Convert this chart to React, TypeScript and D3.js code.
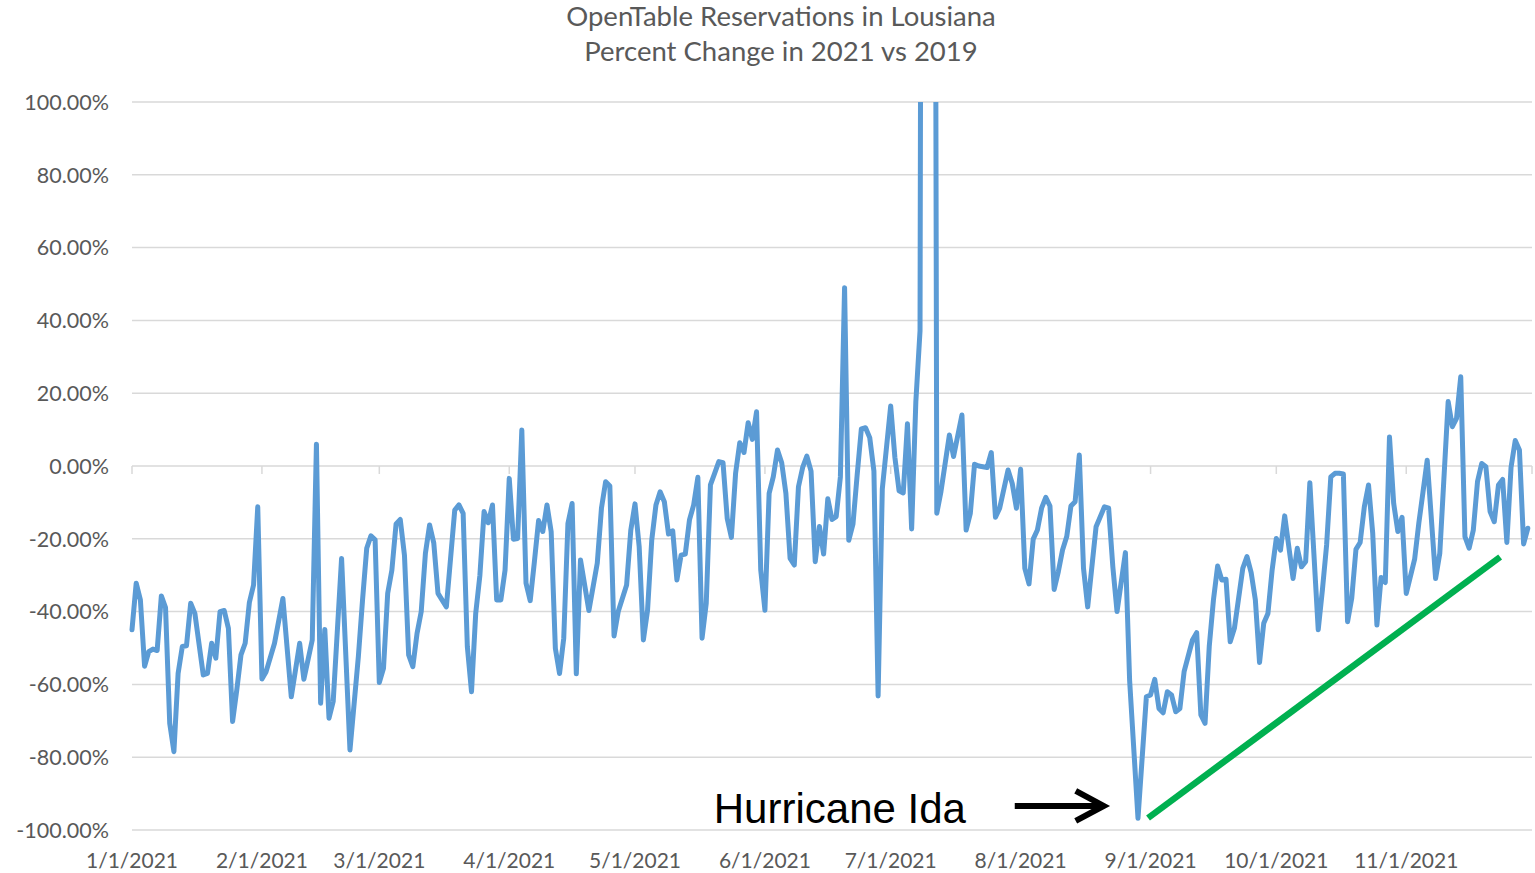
import React from "react";
import * as d3 from "d3";

// ---------- data ----------
const TITLE_LINES = ["OpenTable Reservations in Lousiana", "Percent Change in 2021 vs 2019"];

// days since 1/1/2021 of each plotted observation
const DAY_OFFSETS = [
  0, 1, 2, 3, 4, 5, 6, 7, 8, 9, 10, 11, 12, 13, 14, 15, 17, 18, 19, 20, 21, 22, 23, 24, 25, 26, 27, 28, 29, 30,
  31, 32, 34, 36, 38, 40, 41, 43, 44, 45, 46, 47, 48, 50, 52, 54, 55, 56, 57, 58, 59, 60, 61, 62, 63, 64, 65,
  66, 67, 68, 69, 70, 71, 72, 73, 75, 77, 78, 79, 80, 81, 82, 83, 84, 85, 86, 87, 88, 89, 90, 91, 92, 93, 94,
  95, 96, 97, 98, 99, 100, 101, 102, 103, 104, 105, 106, 107, 109, 111, 112, 113, 114, 115, 116, 118, 119, 120,
  121, 122, 123, 124, 125, 126, 127, 128, 129, 130, 131, 132, 133, 134, 135, 136, 137, 138, 139, 140, 141, 142,
  143, 144, 145, 146, 147, 148, 149, 150, 151, 152, 153, 154, 155, 156, 157, 158, 159, 160, 161, 162, 163, 164,
  165, 166, 167, 168, 169, 170, 171, 172, 173, 174, 175, 176, 177, 178, 179, 181, 182, 183, 184, 185, 186, 187,
  188, 189, 190, 191, 192, 193, 195, 196, 198, 199, 200, 201, 202, 204, 205, 206, 207, 209, 210, 211, 212, 213,
  214, 215, 216, 217, 218, 219, 220, 221, 222, 223, 224, 225, 226, 227, 228, 230, 232, 233, 234, 235, 237, 238,
  240, 242, 243, 244, 245, 246, 247, 248, 249, 250, 251, 253, 254, 255, 256, 257, 258, 259, 260, 261, 262, 263,
  265, 266, 267, 268, 269, 270, 271, 272, 273, 274, 275, 277, 278, 279, 280, 281, 283, 284, 285, 286, 287, 288,
  289, 290, 291, 292, 293, 294, 295, 296, 297, 298, 299, 300, 301, 302, 303, 304, 306, 307, 308, 309, 311, 312,
  314, 315, 316, 317, 318, 319, 320, 321, 322, 323, 324, 325, 326, 327, 328, 329, 330, 331, 332, 333,
];

// percent change vs 2019
const PCT_CHANGE = [
  -45, -32.2, -36.8, -55, -51, -50.3, -50.7, -35.7, -38.9, -70.7, -78.5, -57, -49.6, -49.4, -37.7, -40.5, -57.4, -57,
  -48.7, -52.8, -40, -39.7, -44.6, -70.2, -61.5, -51.9, -48.7, -37.5, -32.7, -11.2,
  -58.5, -56.5, -48.7, -36.4, -63.4, -48.7, -58.6, -47.8, 6, -65.2, -44.9, -69.3, -64.7, -25.4, -78, -52.4, -36.8,
  -22.6, -19.2, -20.3, -59.5, -55.6, -35, -28.6, -15.9, -14.7, -24.5,
  -51.9, -55.1, -46, -40, -24, -16.2, -21.2, -35, -38.7, -12.1, -10.7, -13, -49.6, -62, -40.5, -30, -12.5, -15.6,
  -10.7, -36.8, -36.8, -28.6, -3.4, -20.1, -19.9, 9.9, -32.2,
  -37, -26.3, -15, -18, -10.7, -18, -50.1, -57, -47.3, -15.8, -10.3, -57.1, -25.8, -39.7, -26.7, -11.6, -4.3, -5.5,
  -46.7, -40, -32.7, -17.6, -10.4,
  -22.2, -47.8, -39.6, -20.3, -10.7, -7.1, -9.8, -18.7, -17.8, -31.3, -24.5, -24.2, -14.8, -10.7, -3.1, -47.3, -37.7,
  -5.2, -2, 1.2, 0.9, -14.4,
  -19.6, -2, 6.4, 3.7, 11.9, 7.3, 14.9, -28.6, -39.6, -7.5, -2.9, 4.4, 0.9, -7.5, -25.4, -27.2, -5.7, -0.4, 2.7, -1.4,
  -26.3, -16.6,
  -24.2, -9, -14.7, -13.9, -3, 49, -20.4, -16, -2.5, 10.2, 10.5, 7.8, -1.4, -63.2, -6.3, 16.5, 2.4, -6.8, -7.4, 11.6,
  -17.3, 17.6,
  37.1, 600, 650, 500, -13, -7, 8.5, 2.6, 14, -17.6, -13, 0.5, 0, -0.4, 3.7, -14.1, -11.6, -1.1, -4.8, -11.6, -0.9,
  -28.1,
  -32.4, -20.1, -17.6, -11.6, -8.6, -11, -33.9, -29, -23.1, -19.4, -11, -9.8, 3, -28.1, -38.7, -16.7, -11.2, -11.6,
  -27.7, -40, -23.8, -58.8,
  -96.8, -63.4, -62.9, -58.6, -66.6, -67.8, -62, -62.9, -67.5, -66.6, -56.5, -47.8, -45.8, -68.4, -70.7, -49.6, -36.8,
  -27.5, -31.3, -31.1, -48.3, -44.6,
  -28.1, -24.9, -29.3, -36.8, -54, -43.2, -40.5, -28.6, -19.9, -23.1, -13.7, -30.9, -22.6, -27.7, -26.3, -4.6, -45,
  -34, -21.7, -3, -2, -2,
  -2.2, -42.8, -36.3, -22.9, -21, -11.2, -5.2, -18.5, -43.7, -30.6, -32, 8, -10.3, -18, -14.1, -35, -25.6, -15.7,
  -7.1, 1.6, -30.9, -24,
  17.7, 10.8, 13.1, 24.5, -19.4, -22.6, -17.6, -4.3, 0.7, -0.2, -12.5, -15.3, -5.2, -3.7, -21, -0.4, 7, 4.4, -21.4,
  -17.1,
];

const Y_TICKS = [100, 80, 60, 40, 20, 0, -20, -40, -60, -80, -100];
const X_TICK_LABELS = [
  "1/1/2021", "2/1/2021", "3/1/2021", "4/1/2021", "5/1/2021", "6/1/2021",
  "7/1/2021", "8/1/2021", "9/1/2021", "10/1/2021", "11/1/2021",
];
const X_DOMAIN = ["1/1/2021", "12/1/2021"];

// annotation: green recovery trend line (day offsets, pct)
const TREND_DAYS = [242.4, 326.4];
const TREND_PCT = [-96.7, -25];
// annotation: arrow and label
const ARROW_DAYS = [210.6, 232.3];
const ARROW_PCT = -93.4;
const LABEL_TEXT = "Hurricane Ida";
const LABEL_DAY = 138.8;
const LABEL_PCT = -98.0;

// ---------- chart ----------
const W = 1535;
const H = 873;
const parse = d3.timeParse("%m/%d/%Y");
const start = parse(X_DOMAIN[0]) as Date;
const end = parse(X_DOMAIN[1]) as Date;

const x = d3.scaleTime().domain([start, end]).range([132, 1532]);
const y = d3.scaleLinear().domain([-100, 100]).range([830, 102]);
const xDay = (d: number) => x(new Date(start.getTime() + d * 86400000));

const points = DAY_OFFSETS.map((d, i) => ({ day: d, v: PCT_CHANGE[i] }));
const line = d3
  .line<{ day: number; v: number }>()
  .x((p) => xDay(p.day))
  .y((p) => y(p.v));

const monthTicks = d3.timeMonth.range(start, d3.timeDay.offset(end, 1));
const fmtPct = (t: number) => d3.format(".2f")(t).replace("\u2212", "-") + "%";

const GRID = "#d9d9d9";
const TEXT = "#595959";
const FONT = "Lato, 'Open Sans', sans-serif";

export default function App() {
  const tipX = xDay(ARROW_DAYS[1]);
  const arrowY = y(ARROW_PCT);
  return (
    <div style={{ position: "absolute", left: 0, top: 0, width: W, height: H, background: "#fff" }}>
      <svg width={W} height={H} style={{ display: "block" }}>
        <defs>
          <clipPath id="plotClip">
            <rect x={x.range()[0] - 4} y={y(100)} width={x.range()[1] - x.range()[0] + 8} height={H - y(100)} />
          </clipPath>
        </defs>
        <rect width={W} height={H} fill="#fff" />
        {/* title */}
        {TITLE_LINES.map((t, i) => (
          <text
            key={t}
            x={781}
            y={26 + i * 34.5}
            textAnchor="middle"
            fontFamily={FONT}
            fontSize={27.5}
            fill={TEXT}
          >
            {t}
          </text>
        ))}
        {/* gridlines */}
        {Y_TICKS.map((t) => (
          <line
            key={t}
            x1={x.range()[0]}
            x2={x.range()[1]}
            y1={y(t)}
            y2={y(t)}
            stroke={GRID}
            strokeWidth={1.5}
          />
        ))}
        {/* y labels */}
        {Y_TICKS.map((t) => (
          <text
            key={"l" + t}
            x={109}
            y={y(t)}
            dy="0.36em"
            textAnchor="end"
            fontFamily={FONT}
            fontSize={21.5}
            fill={TEXT}
          >
            {fmtPct(t)}
          </text>
        ))}
        {/* x axis ticks at 0% */}
        {monthTicks.map((d) => (
          <line
            key={+d}
            x1={x(d)}
            x2={x(d)}
            y1={y(0)}
            y2={y(0) + 8}
            stroke={GRID}
            strokeWidth={1.5}
          />
        ))}
        {/* x labels */}
        {X_TICK_LABELS.map((l) => (
          <text
            key={l}
            x={x(parse(l) as Date)}
            y={868}
            textAnchor="middle"
            fontFamily={FONT}
            fontSize={21}
            fill={TEXT}
          >
            {l}
          </text>
        ))}
        {/* data line */}
        <path
          d={line(points) || ""}
          fill="none"
          stroke="#5b9bd5"
          strokeWidth={5}
          strokeLinejoin="round"
          strokeLinecap="round"
          clipPath="url(#plotClip)"
        />
        {/* green trend line */}
        <line
          x1={xDay(TREND_DAYS[0])}
          y1={y(TREND_PCT[0])}
          x2={xDay(TREND_DAYS[1])}
          y2={y(TREND_PCT[1])}
          stroke="#00b050"
          strokeWidth={6.5}
        />
        {/* arrow */}
        <line
          x1={xDay(ARROW_DAYS[0])}
          x2={tipX - 4}
          y1={arrowY}
          y2={arrowY}
          stroke="#000"
          strokeWidth={6}
        />
        <polyline
          points={`${tipX - 30},${arrowY - 15} ${tipX - 2},${arrowY} ${tipX - 30},${arrowY + 15}`}
          fill="none"
          stroke="#000"
          strokeWidth={6}
          strokeLinejoin="miter"
        />
        <text
          x={xDay(LABEL_DAY)}
          y={y(LABEL_PCT)}
          fontFamily="'Liberation Sans', Arial, sans-serif"
          fontSize={42}
          fill="#000"
        >
          {LABEL_TEXT}
        </text>
      </svg>
    </div>
  );
}
